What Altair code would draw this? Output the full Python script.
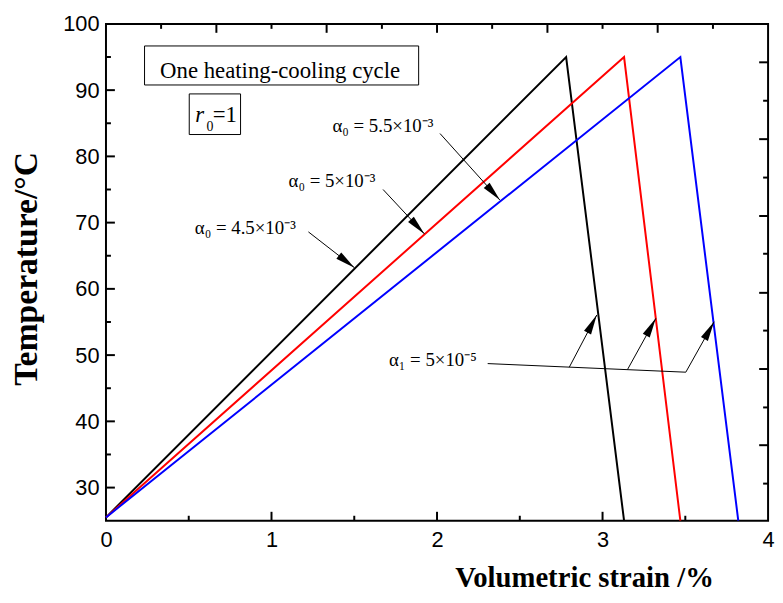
import math
import altair as alt
import pandas as pd

# ---------------- data ----------------
series_names = ["a4.5", "a5.0", "a5.5"]
line_colors = ["#000000", "#ff0000", "#0000ff"]
strain_a45 = [0.0, 2.78, 3.13]
temp_a45 = [25.5, 95.0, 25.0]
strain_a50 = [0.0, 3.13, 3.47]
temp_a50 = [25.5, 95.0, 25.0]
strain_a55 = [0.0, 3.47, 3.82]
temp_a55 = [25.5, 95.0, 25.0]

x_label_values = [0, 1, 2, 3, 4]
y_label_values = [30, 40, 50, 60, 70, 80, 90, 100]
x_major_ticks = [1, 2, 3]
x_minor_ticks = [0.5, 1.5, 2.5, 3.5]
y_major_ticks = [30, 40, 50, 60, 70, 80, 90]
y_minor_ticks = [35, 45, 55, 65, 75, 85, 95]
top_major_ticks = [0.667, 1.333, 2.0, 2.667, 3.333]
top_minor_ticks = [0.333, 1.0, 1.667, 2.333, 3.0, 3.667]
right_major_ticks = [36.4, 47.9, 59.4, 71.0, 82.6, 94.2]
right_minor_ticks = [30.6, 42.1, 53.7, 65.3, 76.8, 88.4]

box_texts = ["One heating-cooling cycle"]
box1_x = [0.233, 1.889]
box1_y = [90.78, 96.67]
box1_text_x = [1.052]
box1_text_y = [91.9]
box2_x = [0.503, 0.813]
box2_y = [83.3, 89.43]
r_text = ["r"]
r_x = [0.54]
r_y = [85.2]
r_sub = ["0"]
r_sub_x = [0.607]
r_sub_y = [83.9]
r_eq = ["=1"]
r_eq_x = [0.645]
r_eq_y = [85.2]

alpha_texts = ["α₀ = 5.5×10⁻³", "α₀ = 5×10⁻³", "α₀ = 4.5×10⁻³", "α₁ = 5×10⁻⁵"]
alpha_text_x = [1.368, 1.103, 0.537, 1.710]
alpha_text_y = [84.6, 76.2, 69.2, 49.2]
arrow_x0 = [2.018, 1.674, 1.223, 2.799, 3.151, 3.503]
arrow_y0 = [83.45, 75.0, 68.6, 48.17, 47.83, 47.42]
arrow_x1 = [2.380, 1.924, 1.501, 2.965, 3.322, 3.674]
arrow_y1 = [73.4, 68.3, 63.2, 56.05, 55.55, 55.04]
leader_x = [2.306, 3.503]
leader_y = [48.72, 47.42]

# ---------------- layout ----------------
W, H = 669, 502
X_DOMAIN = [0, 4]
Y_DOMAIN = [25, 100]
xs = alt.Scale(domain=X_DOMAIN, nice=False, zero=False)
ys = alt.Scale(domain=Y_DOMAIN, nice=False, zero=False)
SERIF = "Liberation Serif"
SANS = "Liberation Sans"

rows = []
for name, sx, ty in [
    (series_names[0], strain_a45, temp_a45),
    (series_names[1], strain_a50, temp_a50),
    (series_names[2], strain_a55, temp_a55),
]:
    for i, (a, b) in enumerate(zip(sx, ty)):
        rows.append({"series": name, "strain": a, "temp": b, "idx": i})
lines_df = pd.DataFrame(rows)

x_axis = alt.Axis(
    values=x_label_values, format="d", title="Volumetric strain /%",
    ticks=False, tickSize=0, domain=False, grid=False, labelFlush=False,
    labelFont=SANS, labelFontSize=22, labelColor="black", labelPadding=9,
    titleFont=SERIF, titleFontSize=29, titleFontWeight="bold", titleColor="black",
    titleX=483, titleY=57, titleAlign="center", titleBaseline="middle",
)
y_axis = alt.Axis(
    values=y_label_values, format="d", title="Temperature/°C",
    ticks=False, tickSize=0, domain=False, grid=False, labelFlush=False,
    labelFont=SANS, labelFontSize=22, labelColor="black", labelPadding=7,
    titleFont=SERIF, titleFontSize=34, titleFontWeight="bold", titleColor="black",
    titleX=-80, titleY=247, titleAngle=270, titleAlign="center", titleBaseline="middle",
)

lines = alt.Chart(lines_df).mark_line(strokeWidth=2).encode(
    x=alt.X("strain:Q", scale=xs, axis=x_axis),
    y=alt.Y("temp:Q", scale=ys, axis=y_axis),
    color=alt.Color("series:N", scale=alt.Scale(domain=series_names, range=line_colors), legend=None),
    order=alt.Order("idx:Q"),
)


def xticks(vals, length, top=False):
    df = pd.DataFrame({"strain": vals})
    if top:
        y, y2 = alt.value(0), alt.value(length)
    else:
        y, y2 = alt.value(H), alt.value(H - length)
    return alt.Chart(df).mark_rule(color="black", strokeWidth=2).encode(
        x=alt.X("strain:Q", scale=xs), y=y, y2=y2)


def yticks(vals, length, right=False):
    df = pd.DataFrame({"temp": vals})
    if right:
        x, x2 = alt.value(W), alt.value(W - length)
    else:
        x, x2 = alt.value(0), alt.value(length)
    return alt.Chart(df).mark_rule(color="black", strokeWidth=2).encode(
        y=alt.Y("temp:Q", scale=ys), x=x, x2=x2)


tick_layers = [
    xticks(x_major_ticks, 9), xticks(x_minor_ticks, 5),
    xticks(top_major_ticks, 9, top=True), xticks(top_minor_ticks, 5, top=True),
    yticks(y_major_ticks, 9), yticks(y_minor_ticks, 5),
    yticks(right_major_ticks, 9, right=True), yticks(right_minor_ticks, 5, right=True),
]

# boxes
boxes_df = pd.DataFrame({
    "strain": [box1_x[0], box2_x[0]], "x1": [box1_x[1], box2_x[1]],
    "temp": [box1_y[0], box2_y[0]], "y1": [box1_y[1], box2_y[1]],
})
boxes = alt.Chart(boxes_df).mark_rect(fill="white", stroke="black", strokeWidth=1).encode(
    x=alt.X("strain:Q", scale=xs), x2="x1:Q",
    y=alt.Y("temp:Q", scale=ys), y2="y1:Q",
)


def text_layer(texts, xv, yv, size, align="left", baseline="alphabetic", style="normal"):
    df = pd.DataFrame({"t": texts, "strain": xv, "temp": yv})
    return alt.Chart(df).mark_text(
        font=SERIF, fontSize=size, align=align, baseline=baseline, fontStyle=style, color="black"
    ).encode(
        x=alt.X("strain:Q", scale=xs),
        y=alt.Y("temp:Q", scale=ys),
        text="t:N",
    )


texts = [
    text_layer(box_texts, box1_text_x, box1_text_y, 23, align="center"),
    text_layer(r_text, r_x, r_y, 23, style="italic"),
    text_layer(r_sub, r_sub_x, r_sub_y, 14),
    text_layer(r_eq, r_eq_x, r_eq_y, 23),
    text_layer(alpha_texts, alpha_text_x, alpha_text_y, 19, baseline="middle"),
]

# arrows
px_x = W / (X_DOMAIN[1] - X_DOMAIN[0])
px_y = H / (Y_DOMAIN[1] - Y_DOMAIN[0])
angles = []
for a, b, c, d in zip(arrow_x0, arrow_y0, arrow_x1, arrow_y1):
    dx = (c - a) * px_x
    dy = -(d - b) * px_y
    angles.append(math.degrees(math.atan2(dx, -dy)) % 360)

arrows_df = pd.DataFrame({"strain": arrow_x0, "temp": arrow_y0, "x1": arrow_x1, "y1": arrow_y1, "ang": angles})
arrow_lines = alt.Chart(arrows_df).mark_rule(color="black", strokeWidth=1).encode(
    x=alt.X("strain:Q", scale=xs), x2="x1:Q",
    y=alt.Y("temp:Q", scale=ys), y2="y1:Q",
)
heads_df = pd.DataFrame({"strain": arrow_x1, "temp": arrow_y1, "ang": angles})
arrow_heads = alt.Chart(heads_df).mark_point(
    shape="M0,0L-0.4,2L0.4,2Z", filled=True, color="black", opacity=1, size=400, strokeWidth=0
).encode(
    x=alt.X("strain:Q", scale=xs),
    y=alt.Y("temp:Q", scale=ys),
    angle=alt.Angle("ang:Q", scale=None),
)
leader_df = pd.DataFrame({"strain": [leader_x[0]], "x1": [leader_x[1]], "temp": [leader_y[0]], "y1": [leader_y[1]]})
leader = alt.Chart(leader_df).mark_rule(color="black", strokeWidth=1).encode(
    x=alt.X("strain:Q", scale=xs), x2="x1:Q",
    y=alt.Y("temp:Q", scale=ys), y2="y1:Q",
)

chart = alt.layer(
    lines, *tick_layers, boxes, *texts, arrow_lines, leader, arrow_heads
).properties(
    width=W, height=H,
    autosize=alt.AutoSizeParams(type="none"),
    padding={"left": 99, "top": 13, "right": 7, "bottom": 72},
).configure_view(stroke="black", strokeWidth=2)

chart.save("out.html", embed_options={"renderer": "svg", "actions": False})
